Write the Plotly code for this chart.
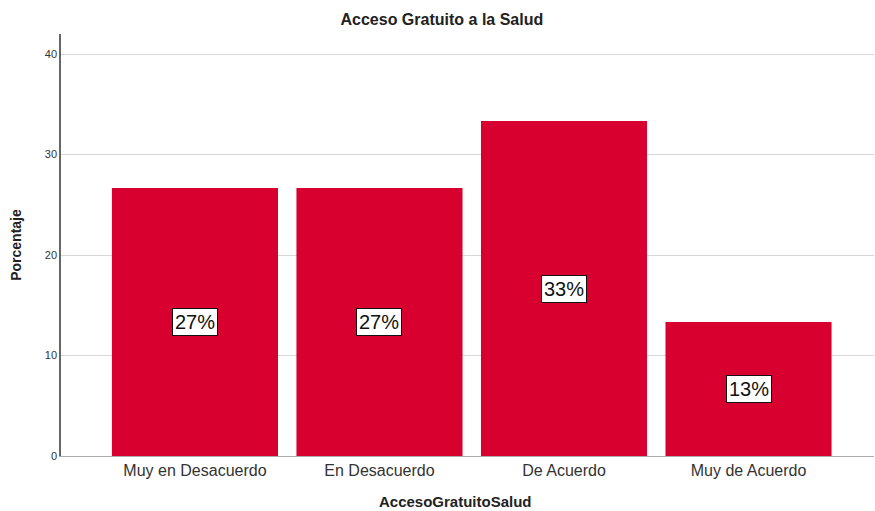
import plotly.graph_objects as go

# Response categories and their share of respondents (%)
categorias = ["Muy en Desacuerdo", "En Desacuerdo", "De Acuerdo", "Muy de Acuerdo"]
porcentajes = [26.67, 26.67, 33.33, 13.33]
etiquetas = ["27%", "27%", "33%", "13%"]
y_ticks = [0, 10, 20, 30, 40]

FONT = "Liberation Sans, Arial, sans-serif"
ROJO = "#D7002F"

fig = go.Figure()
fig.add_trace(go.Bar(
    x=categorias,
    y=porcentajes,
    marker=dict(color=ROJO, line=dict(width=0)),
    width=0.9,
    hoverinfo="x+y",
))

# Percentage labels in boxes at the middle of each bar
for cat, val, lab in zip(categorias, porcentajes, etiquetas):
    fig.add_annotation(
        x=cat, y=val / 2, text=lab, showarrow=False,
        font=dict(family=FONT, size=20, color="#111111"),
        bgcolor="white", bordercolor="#111111", borderwidth=1, borderpad=2,
    )

# Category axis title, placed below the tick labels
fig.add_annotation(
    xref="paper", yref="paper", x=0.485, y=-0.108,
    text="<b>AccesoGratuitoSalud</b>", showarrow=False,
    xanchor="center", yanchor="middle",
    font=dict(family=FONT, size=15, color="#222222"),
)

fig.update_layout(
    width=875, height=511,
    margin=dict(l=61, r=1, t=34, b=55),
    paper_bgcolor="white", plot_bgcolor="white",
    showlegend=False,
    title=dict(
        text="<b>Acceso Gratuito a la Salud</b>",
        x=0.505, xanchor="center", y=0.963, yanchor="middle",
        font=dict(family=FONT, size=16, color="#222222"),
    ),
    xaxis=dict(
        type="category",
        range=[-0.726, 3.68],
        showgrid=False, zeroline=False,
        showline=True, linecolor="#aaaaaa", linewidth=1,
        ticks="", tickfont=dict(family=FONT, size=16, color="#333333"),
    ),
    yaxis=dict(
        range=[0, 42],
        tickvals=y_ticks,
        showgrid=True, gridcolor="#d6d6d6", gridwidth=1.3,
        zeroline=False,
        showline=True, linecolor="#666666", linewidth=1.5,
        ticks="", tickfont=dict(family=FONT, size=11, color="#333333"),
        title=dict(text="<b>Porcentaje</b>", standoff=20,
                   font=dict(family=FONT, size=14, color="#222222")),
    ),
    bargap=0.1,
)

fig.write_html("out.html")
